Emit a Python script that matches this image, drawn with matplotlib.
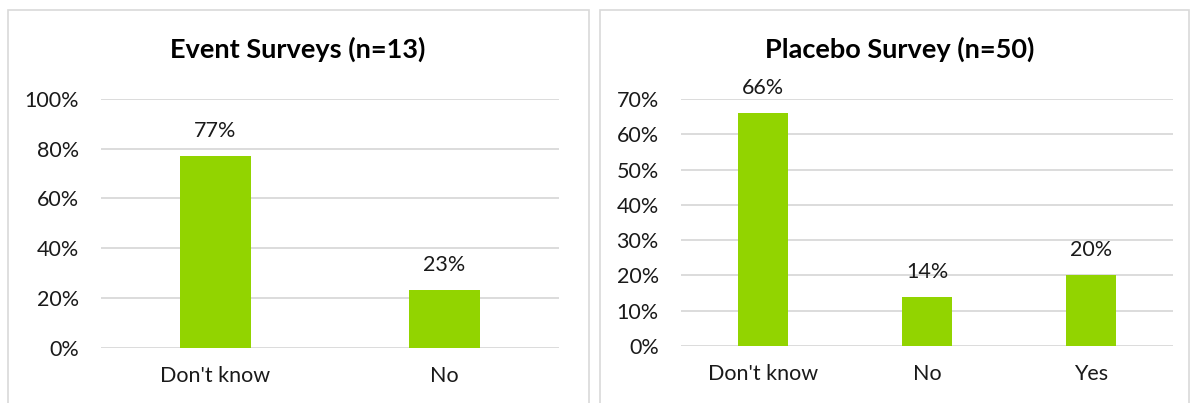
import numpy as np
import matplotlib.pyplot as plt
from matplotlib.patches import Rectangle
from matplotlib.ticker import PercentFormatter

plt.rcParams['font.family'] = ['Lato', 'DejaVu Sans']

# data
event_cats = ["Don't know", "No"]
event_vals = [77, 23]
placebo_cats = ["Don't know", "No", "Yes"]
placebo_vals = [66, 14, 20]

BAR_COLOR = "#92D400"
GRID_COLOR = "#D9D9D9"
TEXT_COLOR = "#1a1a1a"

W, H = 1193, 403
fig = plt.figure(figsize=(W / 100, H / 100), dpi=100)


def px(x0, y0, x1, y1):
    # pixel box (top-left origin) -> figure fraction rect
    return [x0 / W, 1 - y1 / H, (x1 - x0) / W, (y1 - y0) / H]


def draw_panel(rect, title, title_x, cats, vals, ymax, step):
    ax = fig.add_axes(rect)
    x = np.arange(len(cats))
    bars = ax.bar(x, vals, width=0.31, color=BAR_COLOR, zorder=3)
    for b, v in zip(bars, vals):
        ax.annotate(f"{v}%", (b.get_x() + b.get_width() / 2, v),
                    xytext=(0, 18), textcoords="offset points",
                    ha="center", va="center", fontsize=15.5, color=TEXT_COLOR)
    ax.set_xlim(-0.5, len(cats) - 0.5)
    ax.set_ylim(0, ymax)
    ax.set_yticks(np.arange(0, ymax + 1, step))
    ax.yaxis.set_major_formatter(PercentFormatter(decimals=0))
    ax.set_xticks(x)
    ax.set_xticklabels(cats)
    ax.tick_params(axis="both", length=0, labelsize=15.5, colors=TEXT_COLOR)
    ax.tick_params(axis="y", pad=16)
    ax.tick_params(axis="x", pad=13)
    ax.grid(axis="y", color=GRID_COLOR, linewidth=1.3, zorder=0)
    for s in ax.spines.values():
        s.set_visible(False)
    fig.text(title_x / W, 1 - 49 / H, title, ha="center", va="center",
             fontsize=19.5, fontweight="bold", color="black")
    return ax


# panel frames (bottom runs off the picture like in the source)
for x0, x1 in [(8, 589), (600, 1189)]:
    fig.patches.append(Rectangle((x0 / W, -0.05), (x1 - x0) / W, 1 - 10 / H + 0.05,
                                 transform=fig.transFigure, fill=False,
                                 edgecolor=GRID_COLOR, linewidth=1.2))

draw_panel(px(101, 99, 559, 347.5), "Event Surveys (n=13)", 298,
           event_cats, event_vals, 100, 20)
draw_panel(px(681, 99, 1173, 346), "Placebo Survey (n=50)", 900,
           placebo_cats, placebo_vals, 70, 10)

fig.savefig("out.png", dpi=100)
